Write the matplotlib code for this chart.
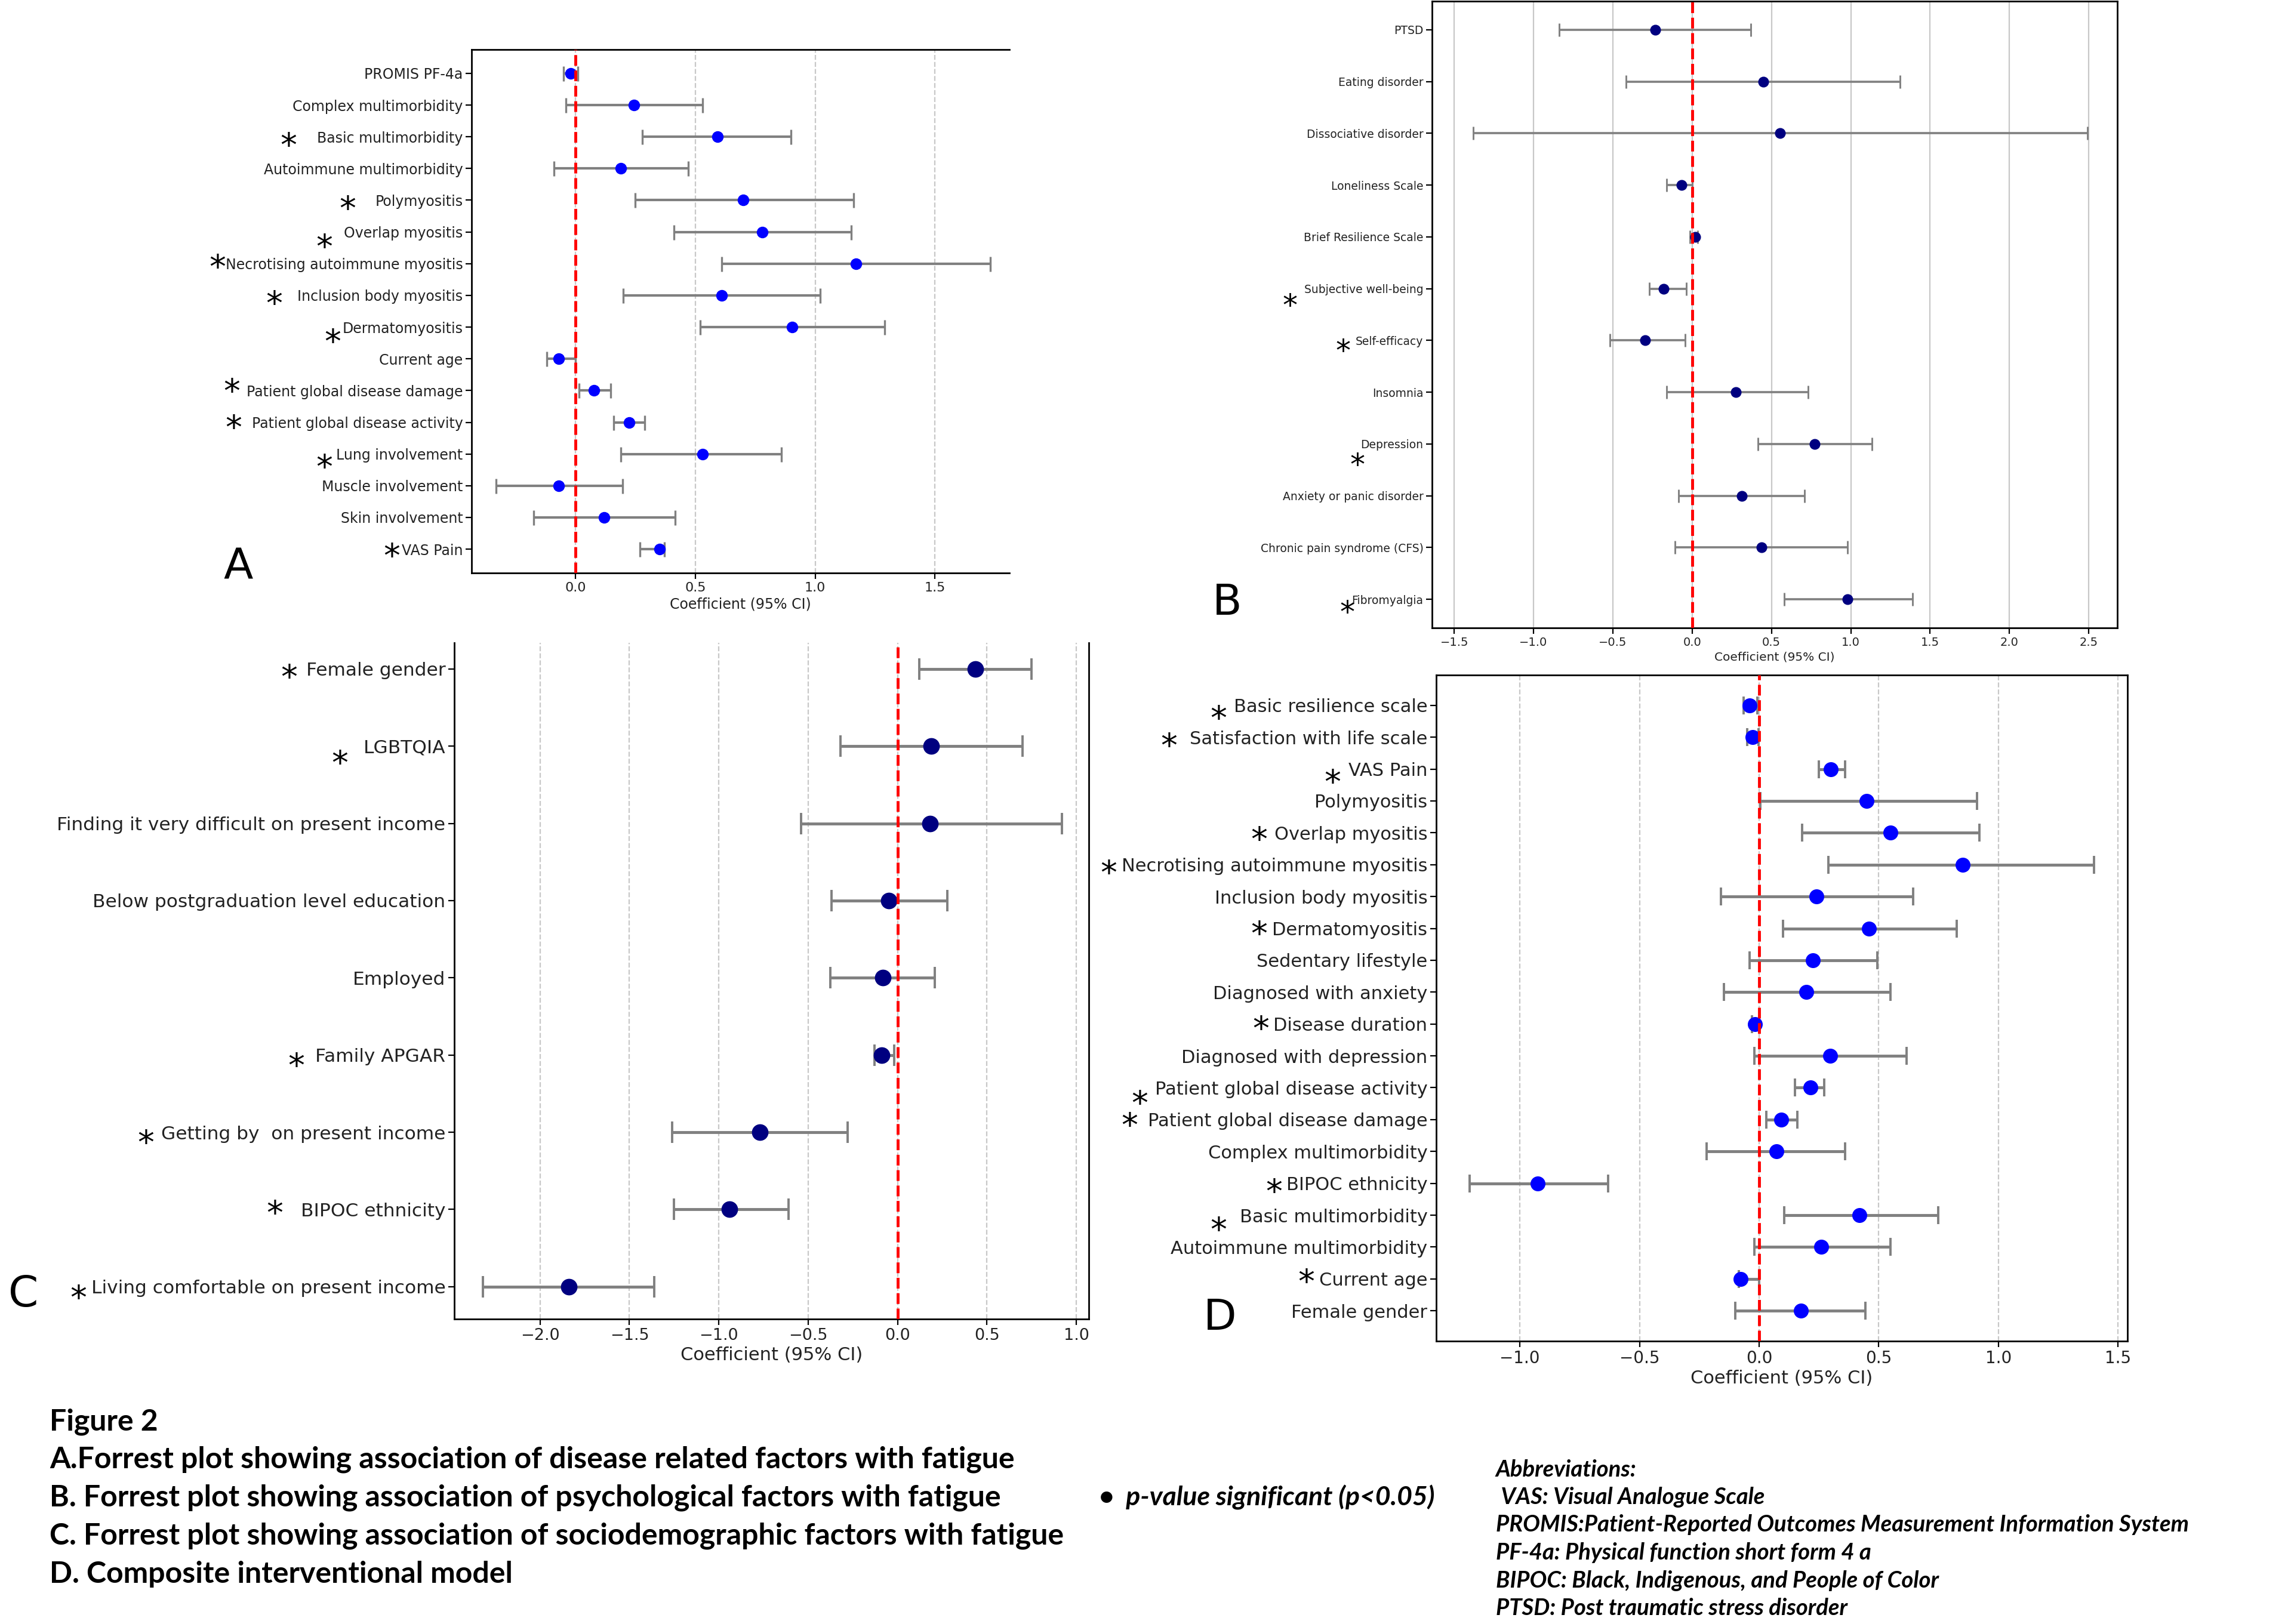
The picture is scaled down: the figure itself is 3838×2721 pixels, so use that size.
import numpy as np
import matplotlib
matplotlib.use("Agg")
import matplotlib.pyplot as plt
import matplotlib.transforms as mtransforms
from matplotlib.ticker import MultipleLocator

# ---------------- Data ----------------
# Panel A: disease related factors
a_labels = ["PROMIS PF-4a", "Complex multimorbidity", "Basic multimorbidity",
            "Autoimmune multimorbidity", "Polymyositis", "Overlap myositis",
            "Necrotising autoimmune myositis", "Inclusion body myositis",
            "Dermatomyositis", "Current age", "Patient global disease damage",
            "Patient global disease activity", "Lung involvement",
            "Muscle involvement", "Skin involvement", "VAS Pain"]
a_est = [-0.02, 0.245, 0.593, 0.19, 0.70, 0.78, 1.17, 0.61, 0.905, -0.07,
         0.077, 0.223, 0.53, -0.07, 0.12, 0.35]
a_lo = [-0.05, -0.04, 0.28, -0.09, 0.25, 0.41, 0.61, 0.20, 0.52, -0.12,
        0.015, 0.16, 0.19, -0.33, -0.175, 0.27]
a_hi = [0.01, 0.53, 0.90, 0.47, 1.16, 1.15, 1.73, 1.02, 1.29, 0.0,
        0.146, 0.29, 0.86, 0.197, 0.416, 0.37]
a_sig = ["Basic multimorbidity", "Polymyositis", "Overlap myositis",
         "Necrotising autoimmune myositis", "Inclusion body myositis",
         "Dermatomyositis", "Patient global disease damage",
         "Patient global disease activity", "Lung involvement", "VAS Pain"]

# Panel B: psychological factors
b_labels = ["PTSD", "Eating disorder", "Dissociative disorder", "Loneliness Scale",
            "Brief Resilience Scale", "Subjective well-being", "Self-efficacy",
            "Insomnia", "Depression", "Anxiety or panic disorder",
            "Chronic pain syndrome (CFS)", "Fibromyalgia"]
b_est = [-0.234, 0.45, 0.555, -0.066, 0.018, -0.18, -0.296, 0.277, 0.774,
         0.314, 0.438, 0.98]
b_lo = [-0.84, -0.416, -1.38, -0.16, -0.015, -0.27, -0.52, -0.16, 0.416,
        -0.084, -0.11, 0.58]
b_hi = [0.37, 1.31, 2.49, 0.0, 0.035, -0.036, -0.044, 0.73, 1.135, 0.708,
        0.98, 1.39]
b_sig = ["Subjective well-being", "Self-efficacy", "Depression", "Fibromyalgia"]

# Panel C: sociodemographic factors
c_labels = ["Female gender", "LGBTQIA", "Finding it very difficult on present income",
            "Below postgraduation level education", "Employed", "Family APGAR",
            "Getting by  on present income", "BIPOC ethnicity",
            "Living comfortable on present income"]
c_est = [0.435, 0.19, 0.18, -0.05, -0.083, -0.09, -0.77, -0.94, -1.84]
c_lo = [0.12, -0.32, -0.54, -0.37, -0.375, -0.13, -1.26, -1.25, -2.32]
c_hi = [0.75, 0.70, 0.92, 0.28, 0.21, -0.02, -0.28, -0.61, -1.36]
c_sig = ["Female gender", "LGBTQIA", "Family APGAR", "Getting by  on present income",
         "BIPOC ethnicity", "Living comfortable on present income"]

# Panel D: composite interventional model
d_labels = ["Basic resilience scale", "Satisfaction with life scale", "VAS Pain",
            "Polymyositis", "Overlap myositis", "Necrotising autoimmune myositis",
            "Inclusion body myositis", "Dermatomyositis", "Sedentary lifestyle",
            "Diagnosed with anxiety", "Disease duration", "Diagnosed with depression",
            "Patient global disease activity", "Patient global disease damage",
            "Complex multimorbidity", "BIPOC ethnicity", "Basic multimorbidity",
            "Autoimmune multimorbidity", "Current age", "Female gender"]
d_est = [-0.04, -0.028, 0.30, 0.45, 0.55, 0.85, 0.24, 0.46, 0.225, 0.197,
         -0.017, 0.297, 0.214, 0.092, 0.072, -0.926, 0.42, 0.26, -0.078, 0.175]
d_lo = [-0.064, -0.05, 0.25, 0.005, 0.18, 0.29, -0.16, 0.10, -0.04, -0.147,
        -0.03, -0.02, 0.15, 0.03, -0.22, -1.21, 0.106, -0.02, -0.085, -0.10]
d_hi = [-0.008, -0.003, 0.36, 0.91, 0.92, 1.40, 0.645, 0.825, 0.495, 0.548,
        0.0, 0.617, 0.273, 0.159, 0.359, -0.63, 0.75, 0.548, 0.0, 0.445]
d_sig = ["Basic resilience scale", "Satisfaction with life scale", "VAS Pain",
         "Overlap myositis", "Necrotising autoimmune myositis", "Dermatomyositis",
         "Disease duration", "Patient global disease activity",
         "Patient global disease damage", "BIPOC ethnicity", "Basic multimorbidity",
         "Current age"]

# asterisk placement (axes-fraction x, row offset) per significant label
a_ast = [(-0.340, 0.0), (-0.231, 0.0), (-0.274, 0.2), (-0.473, -0.15), (-0.367, 0.0),
         (-0.258, 0.2), (-0.446, -0.25), (-0.443, -0.1), (-0.274, 0.15), (-0.149, -0.05)]
b_ast = [(-0.207, 0.17), (-0.130, 0.05), (-0.109, 0.25), (-0.124, 0.1)]
c_ast = [(-0.260, 0.0), (-0.180, 0.11), (-0.249, 0.03), (-0.486, 0.03),
         (-0.283, -0.06), (-0.592, 0.04)]
d_ast = [(-0.315, 0.14), (-0.387, 0.0), (-0.150, 0.15), (-0.256, -0.06), (-0.474, 0.0),
         (-0.256, -0.09), (-0.254, -0.11), (-0.429, 0.22), (-0.444, -0.09),
         (-0.235, 0.0), (-0.315, 0.2), (-0.188, -0.18)]

caption_title = "Figure 2"
caption_lines = ["A.Forrest plot showing association of disease related factors with fatigue",
                 "B. Forrest plot showing association of psychological factors with fatigue",
                 "C. Forrest plot showing association of sociodemographic factors with fatigue",
                 "D. Composite interventional model"]
sig_note = "•  p-value significant (p<0.05)"
abbrev_lines = ["Abbreviations:", " VAS: Visual Analogue Scale",
                "PROMIS:Patient-Reported Outcomes Measurement Information System",
                "PF-4a: Physical function short form 4 a",
                "BIPOC: Black, Indigenous, and People of Color",
                "PTSD: Post traumatic stress disorder"]

# ---------------- Figure ----------------
W, H = 3838, 2721
fig = plt.figure(figsize=(W / 100, H / 100), dpi=100)
fig.patch.set_facecolor("white")


def add_ax(left, top, right, bottom):
    return fig.add_axes([left / W, 1 - bottom / H, (right - left) / W, (bottom - top) / H])


def forest(ax, labels, est, lo, hi, sig, ast, color, ms, cap, elw, ytfs, xtfs, xlfs,
           xlim, grid_ls, ast_fs, ylim=None):
    n = len(labels)
    y = np.arange(n)
    est = np.asarray(est); lo = np.asarray(lo); hi = np.asarray(hi)
    ax.grid(axis="x", linestyle=grid_ls, color="#c8c8c8", linewidth=1.6, zorder=0)
    ax.set_axisbelow(True)
    ax.errorbar(est, y, xerr=[est - lo, hi - est], fmt="o", color=color,
                ecolor="gray", elinewidth=elw, capsize=cap, capthick=elw * 0.8,
                markersize=ms, zorder=3)
    ax.axvline(0, color="red", linestyle="--", linewidth=3.5, zorder=4)
    ax.set_yticks(y)
    ax.set_yticklabels(labels, fontsize=ytfs, color="#222222")
    ax.set_xlim(*xlim)
    ax.xaxis.set_major_locator(MultipleLocator(0.5))
    if ylim is not None:
        ax.set_ylim(*ylim)
    else:
        ax.set_ylim(n - 1 + 0.05 * (n - 1), -0.05 * (n - 1))
    ax.tick_params(axis="x", labelsize=xtfs, length=7, width=1.6, labelcolor="#222222")
    ax.tick_params(axis="y", length=7, width=1.6)
    ax.set_xlabel("Coefficient (95% CI)", fontsize=xlfs, color="#222222")
    for s in ax.spines.values():
        s.set_linewidth(2.0)
    trans = mtransforms.blended_transform_factory(ax.transAxes, ax.transData)
    for lab, (xf, dy) in zip(sig, ast):
        row = labels.index(lab)
        ax.annotate("*", xy=(xf, row + dy), xycoords=trans,
                    xytext=(0, -0.585 * ast_fs), textcoords="offset points",
                    ha="center", va="baseline", fontsize=ast_fs, color="black",
                    annotation_clip=False)


# Panel A
axA = add_ax(790, 83, 1691, 960)
forest(axA, a_labels, a_est, a_lo, a_hi, a_sig, a_ast, "#0000ff", 13, 9, 3.0,
       17, 16, 17, (-0.433, 1.81), "--", 40)
axA.spines["right"].set_visible(False)

# Panel B
axB = add_ax(2399, 2, 3547, 1052)
forest(axB, b_labels, b_est, b_lo, b_hi, b_sig, b_ast, "#000080", 12, 8, 2.6,
       13.5, 14, 14.5, (-1.64, 2.68), "-", 36)

# Panel C
axC = add_ax(761, 1077, 1824, 2210)
forest(axC, c_labels, c_est, c_lo, c_hi, c_sig, c_ast, "#000080", 19, 13, 3.5,
       22.5, 19.5, 22, (-2.48, 1.07), "--", 40, ylim=(8.42, -0.34))
axC.spines["top"].set_visible(False)

# Panel D
axD = add_ax(2406, 1131, 3564, 2247)
forest(axD, d_labels, d_est, d_lo, d_hi, d_sig, d_ast, "#0000ff", 17, 11, 3.5,
       22, 20, 22, (-1.35, 1.54), "--", 40)

# Panel letters
for letter, (px, py) in zip("ABCD", [(399, 950), (2056, 1011), (39, 2169), (2044, 2208)]):
    fig.text(px / W, 1 - py / H, letter, fontsize=52, ha="center", va="center",
             color="black")

# Caption text
cap_font = ["Lato", "DejaVu Sans"]
fig.text(83 / W, 1 - 2382 / H, caption_title, fontsize=36, fontweight="bold",
         family=cap_font, va="center", ha="left")
for i, line in enumerate(caption_lines):
    fig.text(83 / W, 1 - (2445 + i * 64) / H, line, fontsize=36, fontweight="bold",
             family=cap_font, va="center", ha="left")
fig.text(1841 / W, 1 - 2509 / H, sig_note, fontsize=32, fontweight="bold",
         style="italic", family=cap_font, va="center", ha="left")
for i, line in enumerate(abbrev_lines):
    fig.text(2506 / W, 1 - (2462 + i * 46.5) / H, line, fontsize=27.5, fontweight="bold",
             style="italic", family=cap_font, va="center", ha="left")

fig.savefig("out.png", dpi=100, facecolor="white")
